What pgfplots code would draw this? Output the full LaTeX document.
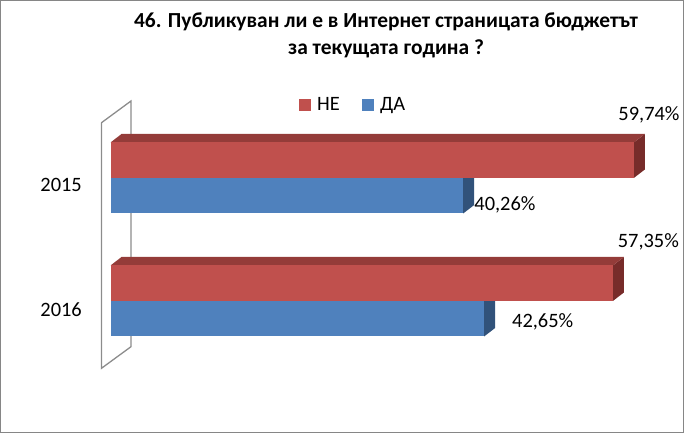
\documentclass[border=0pt]{standalone}
\usepackage{fontspec}
\setmainfont{Carlito}
\usepackage{pgfplots}
\pgfplotsset{compat=1.18}
\definecolor{redF}{HTML}{C0504D}
\definecolor{redT}{HTML}{943C39}
\definecolor{redS}{HTML}{772C2A}
\definecolor{bluF}{HTML}{4F81BD}
\definecolor{bluS}{HTML}{31527A}
\definecolor{wallg}{HTML}{8C8C8C}
\definecolor{frameg}{HTML}{868686}
\newcommand{\lbl}{\fontsize{20.5}{24}\selectfont}
\begin{document}
\begin{tikzpicture}
\begin{axis}[
  scale only axis,
  x=8.76bp, y=123bp,
  xmin=-12.614, xmax=65.81,
  ymin=-1.0732, ymax=2.4472,
  at={(0,0)}, anchor=south west,
  hide axis, clip=false,
  legend style={at={(rel axis cs:0.4345,0.7587)}, anchor=west, draw=none, fill=none,
    font=\lbl, inner sep=0pt, row sep=0pt},
  legend columns=2,
  legend cell align=left,
  /tikz/every odd column/.append style={column sep=5bp},
  /tikz/every even column/.append style={column sep=20bp},
  legend image code/.code={\fill[#1] (0bp,-5.5bp) rectangle (11bp,5.5bp);},
]
% wall (y-axis plane)
\addplot[forget plot, line width=1.3bp, draw=wallg] coordinates {(-1.027,1.4496) (2.34,1.626) (2.34,-0.3715) (-1.027,-0.547) (-1.027,1.4496)};
% 2015 blue (ДА) 40.26
\addplot[fill=bluS, draw=none, forget plot] coordinates {(40.26,0.7114) (41.516,0.7805) (41.516,1.0691) (40.26,1)} -- cycle;
\addplot[fill=bluF, draw=none, forget plot] coordinates {(0,0.7114) (40.26,0.7114) (40.26,1) (0,1)} -- cycle;
% 2015 red (НЕ) 59.74
\addplot[fill=redS, draw=none, forget plot] coordinates {(59.74,1) (60.996,1.0691) (60.996,1.3577) (59.74,1.2886)} -- cycle;
\addplot[fill=redT, draw=none, forget plot] coordinates {(0,1.2886) (59.74,1.2886) (60.996,1.3577) (1.256,1.3577)} -- cycle;
\addplot[fill=redF, draw=none, forget plot] coordinates {(0,1) (59.74,1) (59.74,1.2886) (0,1.2886)} -- cycle;
% 2016 blue (ДА) 42.65
\addplot[fill=bluS, draw=none, forget plot] coordinates {(42.65,-0.2886) (43.906,-0.2195) (43.906,0.0691) (42.65,0)} -- cycle;
\addplot[fill=bluF, draw=none, forget plot] coordinates {(0,-0.2886) (42.65,-0.2886) (42.65,0) (0,0)} -- cycle;
% 2016 red (НЕ) 57.35
\addplot[fill=redS, draw=none, forget plot] coordinates {(57.35,0) (58.606,0.0691) (58.606,0.3577) (57.35,0.2886)} -- cycle;
\addplot[fill=redT, draw=none, forget plot] coordinates {(0,0.2886) (57.35,0.2886) (58.606,0.3577) (1.256,0.3577)} -- cycle;
\addplot[fill=redF, draw=none, forget plot] coordinates {(0,0) (57.35,0) (57.35,0.2886) (0,0.2886)} -- cycle;
% legend
\addlegendimage{redF}
\addlegendentry{НЕ}
\addlegendimage{bluF}
\addlegendentry{ДА}
% data labels
\node[font=\lbl, inner sep=0pt] at (axis cs:61.47,1.512) {59,74\%};
\node[font=\lbl, inner sep=0pt] at (axis cs:45.03,0.780) {40,26\%};
\node[font=\lbl, inner sep=0pt] at (axis cs:61.40,0.482) {57,35\%};
\node[font=\lbl, inner sep=0pt] at (axis cs:49.34,-0.168) {42,65\%};
% category labels
\node[font=\lbl, inner sep=0pt, anchor=east] at (axis cs:-3.253,0.940) {2015};
\node[font=\lbl, inner sep=0pt, anchor=east] at (axis cs:-3.253,-0.0715) {2016};
% title
\node[font=\fontsize{21.5}{27}\selectfont\bfseries, align=center, inner sep=0pt] at (axis cs:31.45,2.160) {46. Публикуван ли е в Интернет страницата бюджетът\\за текущата година ?};
\end{axis}
\draw[frameg, line width=1bp] (0.5bp,0.5bp) rectangle (683bp,432.5bp);
\pgfresetboundingbox
\path (0,0) rectangle (687bp,433bp);
\end{tikzpicture}
\end{document}
